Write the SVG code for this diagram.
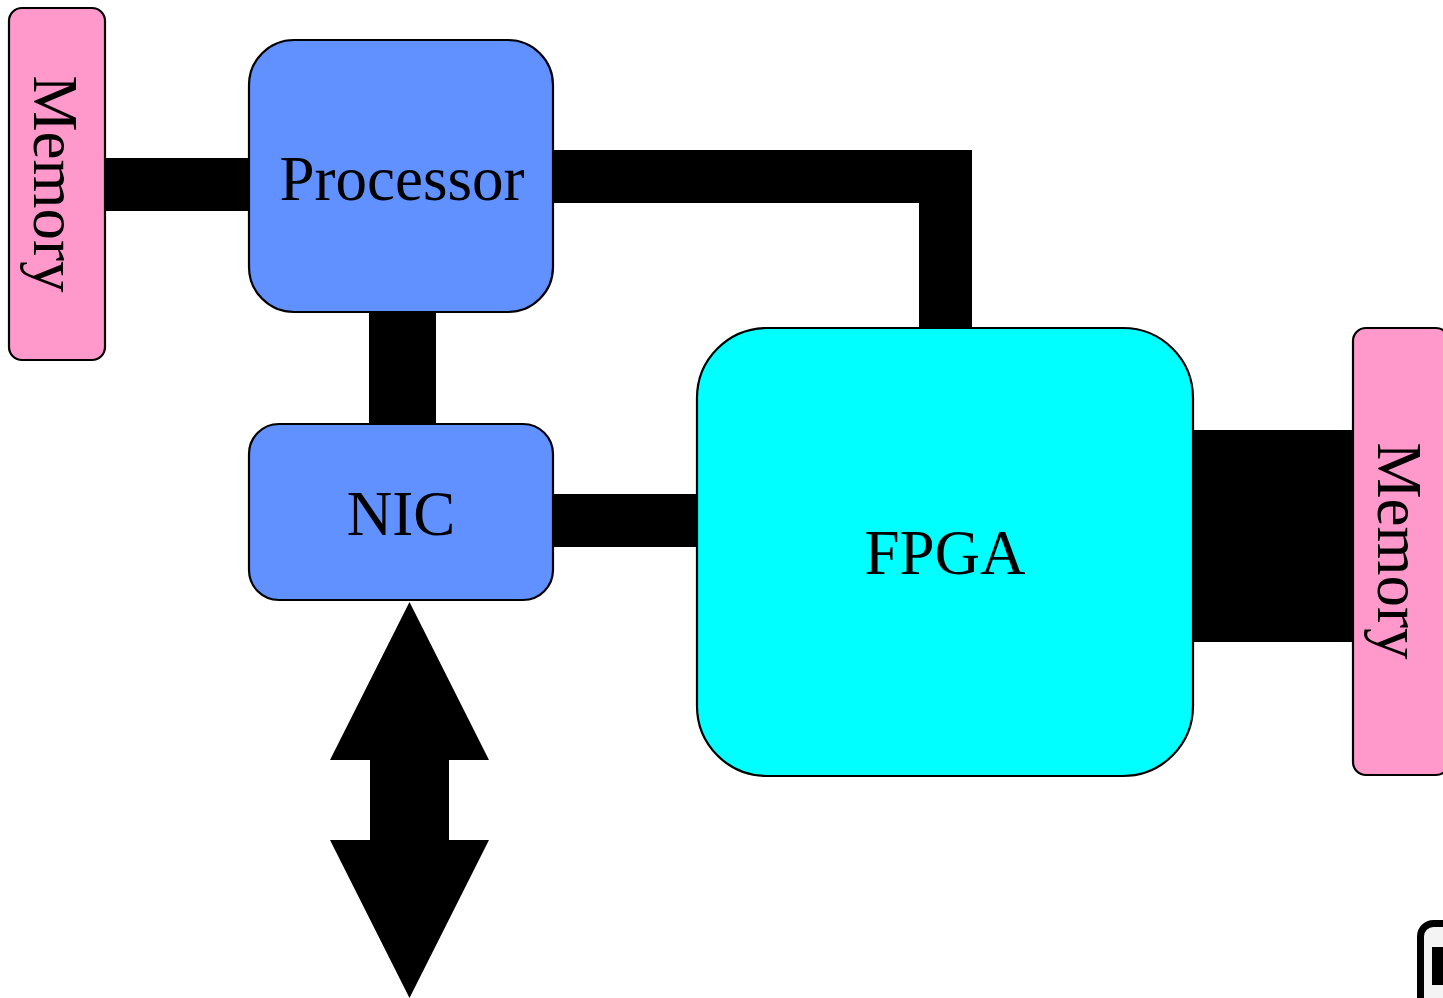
<svg xmlns="http://www.w3.org/2000/svg" width="1443" height="998" viewBox="0 0 1443 998">
  <style>
    .box { stroke: #000; stroke-width: 2.2; }
    .mem { fill: #ff99cc; }
    .cpu { fill: #6190ff; }
    .fpga { fill: #00ffff; }
    .lbl { font-family: "Liberation Serif", "Times New Roman", serif; font-size: 63px; fill: #000; text-anchor: middle; }
    .bus { fill: #000; }
  </style>
  <rect x="0" y="0" width="1443" height="998" fill="#ffffff"/>
  <g id="connectors">
    <rect class="bus" x="104" y="158" width="146" height="53"/>
    <rect class="bus" x="369" y="311" width="67" height="114"/>
    <path class="bus" d="M552 150 H972 V329 H919 V203 H552 Z"/>
    <rect class="bus" x="552" y="494" width="146" height="53"/>
    <rect class="bus" x="1192" y="430" width="162" height="212"/>
    <path class="bus" d="M409.5 602 L489 760 L449 760 L449 840 L489 840 L409.5 998 L330 840 L370 840 L370 760 L330 760 Z"/>
  </g>
  <g id="memory-left">
    <rect class="box mem" x="9" y="8" width="96" height="352" rx="13"/>
    <text class="lbl" transform="translate(34,184) rotate(90)" x="0" y="0">Memory</text>
  </g>
  <g id="processor">
    <rect class="box cpu" x="249" y="40" width="304" height="272" rx="45"/>
    <text class="lbl" x="402" y="200">Processor</text>
  </g>
  <g id="nic">
    <rect class="box cpu" x="249" y="424" width="304" height="176" rx="30"/>
    <text class="lbl" x="401" y="535">NIC</text>
  </g>
  <g id="fpga">
    <rect class="box fpga" x="697" y="328" width="496" height="448" rx="70"/>
    <text class="lbl" x="945" y="574">FPGA</text>
  </g>
  <g id="memory-right">
    <rect class="box mem" x="1353" y="328" width="96" height="447" rx="13"/>
    <text class="lbl" transform="translate(1378,551) rotate(90)" x="0" y="0">Memory</text>
  </g>
  <g id="corner-mark">
    <rect x="1420.5" y="923.5" width="40" height="90" rx="13" fill="#f4f4f4" stroke="#000" stroke-width="7"/>
    <rect x="1432" y="947" width="14" height="38" fill="#000"/>
  </g>
</svg>
